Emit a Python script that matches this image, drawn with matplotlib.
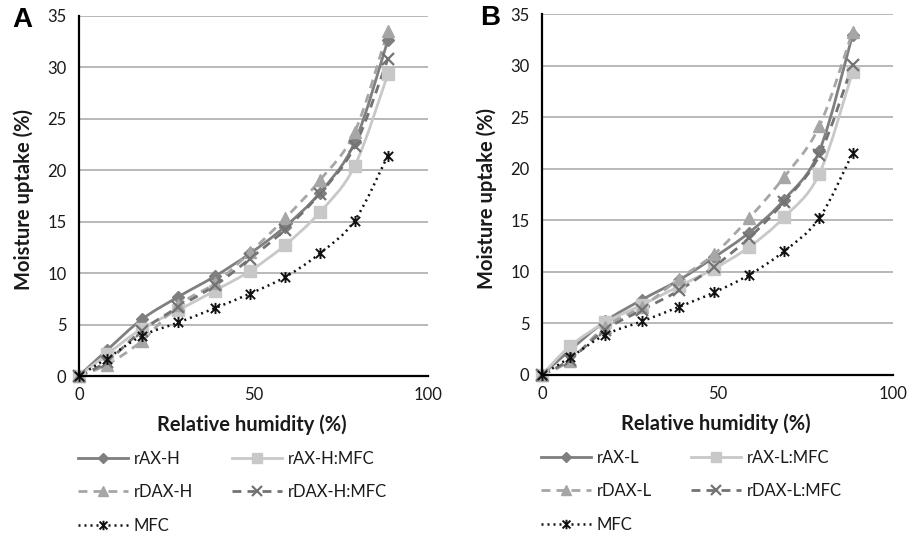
import numpy as np
import matplotlib
matplotlib.use("Agg")
import matplotlib.pyplot as plt
from matplotlib.path import Path
from matplotlib.patches import PathPatch
from matplotlib.lines import Line2D

# ---------------- data ----------------
rh = [0, 8, 18, 28.5, 39, 49, 59, 69, 79, 88.5]

# Panel A
rAX_H       = [0, 2.5, 5.5, 7.7, 9.7, 11.9, 14.5, 17.8, 22.7, 32.6]
rAX_H_MFC   = [0, 2.1, 4.6, 6.4, 8.3, 10.2, 12.7, 15.9, 20.4, 29.3]
rDAX_H      = [0, 1.1, 3.4, 6.9, 9.0, 12.0, 15.3, 19.0, 23.7, 33.5]
rDAX_H_MFC  = [0, 1.4, 4.4, 6.7, 8.8, 11.4, 14.2, 17.7, 22.3, 30.8]
MFC_A       = [0, 1.7, 3.9, 5.2, 6.6, 8.0, 9.6, 11.9, 15.1, 21.4]

# Panel B
rAX_L       = [0, 2.4, 5.2, 7.3, 9.2, 11.4, 13.8, 17.0, 21.7, 33.0]
rAX_L_MFC   = [0, 2.8, 5.1, 6.8, 8.6, 10.3, 12.4, 15.3, 19.5, 29.4]
rDAX_L      = [0, 1.4, 4.7, 6.6, 9.3, 11.7, 15.2, 19.2, 24.1, 33.3]
rDAX_L_MFC  = [0, 1.5, 4.4, 6.3, 8.2, 10.5, 13.3, 16.8, 21.3, 30.1]
MFC_B       = [0, 1.7, 3.9, 5.2, 6.6, 8.0, 9.7, 12.0, 15.2, 21.5]

labels_A = ["rAX-H", "rAX-H:MFC", "rDAX-H", "rDAX-H:MFC", "MFC"]
labels_B = ["rAX-L", "rAX-L:MFC", "rDAX-L", "rDAX-L:MFC", "MFC"]
xticks = [0, 50, 100]
yticks = [0, 5, 10, 15, 20, 25, 30, 35]

# ---------------- style ----------------
FONT = ["Lato", "DejaVu Sans"]
plt.rcParams["font.family"] = FONT

star = Path([(-1, -1), (1, 1), (-1, 1), (1, -1), (0, -1.2), (0, 1.2)],
            [Path.MOVETO, Path.LINETO, Path.MOVETO, Path.LINETO, Path.MOVETO, Path.LINETO])

styles = [
    dict(color="#7f7f7f", ls="-", lw=2.0, marker="D", ms=6.5, mec="#7f7f7f", mfc="#7f7f7f"),
    dict(color="#c8c8c8", ls="-", lw=2.0, marker="s", ms=8, mec="#c8c8c8", mfc="#c8c8c8"),
    dict(color="#a6a6a6", ls=(0, (3.2, 2.2)), lw=2.0, marker="^", ms=8.5, mec="#a6a6a6", mfc="#a6a6a6"),
    dict(color="#737373", ls=(0, (3.2, 2.2)), lw=2.0, marker="x", ms=8, mec="#737373", mfc="#737373", mew=1.6),
    dict(color="#111111", ls=(0, (0.8, 1.6)), lw=1.8, marker=star, ms=8, mec="#111111", mfc="none", mew=1.4),
]


def smooth_path(x, y):
    pts = np.column_stack([np.asarray(x, float), np.asarray(y, float)])
    n = len(pts)
    verts = [pts[0]]
    codes = [Path.MOVETO]
    for i in range(n - 1):
        p0 = pts[i - 1] if i > 0 else pts[i]
        p1 = pts[i]
        p2 = pts[i + 1]
        p3 = pts[i + 2] if i + 2 < n else pts[i + 1]
        c1 = p1 + (p2 - p0) / 6.0
        c2 = p2 - (p3 - p1) / 6.0
        verts += [c1, c2, p2]
        codes += [Path.CURVE4] * 3
    return Path(verts, codes)


def draw_panel(ax, series, labels, letter, letter_x):
    ax.set_xlim(0, 100)
    ax.set_ylim(0, 35)
    ax.set_xticks(xticks)
    ax.set_yticks(yticks)
    ax.tick_params(length=0, labelsize=12, colors="#1a1a1a")
    ax.tick_params(axis="x", pad=8)
    ax.tick_params(axis="y", pad=9)
    for s in ["top", "right"]:
        ax.spines[s].set_visible(False)
    for s in ["left", "bottom"]:
        ax.spines[s].set_linewidth(1.6)
        ax.spines[s].set_color("black")
        ax.spines[s].set_zorder(3)
    for yv in yticks[1:]:
        ax.axhline(yv, color="#b3b3b3", lw=1.3, zorder=0)

    handles = []
    for ys, st, lab in zip(series, styles, labels):
        p = PathPatch(smooth_path(rh, ys), fill=False, edgecolor=st["color"],
                      lw=st["lw"], linestyle=st["ls"], zorder=2, capstyle="butt")
        ax.add_patch(p)
        ax.plot(rh, ys, linestyle="none", marker=st["marker"], ms=st["ms"],
                mec=st["mec"], mfc=st["mfc"], mew=st.get("mew", 1.0),
                zorder=2.5, clip_on=False)
        h = Line2D([], [], color=st["color"], lw=st["lw"], linestyle=st["ls"],
                   marker=st["marker"], ms=st["ms"] * 0.85, mec=st["mec"], mfc=st["mfc"],
                   mew=st.get("mew", 1.0))
        handles.append(h)

    yl = ax.set_ylabel("Moisture uptake (%)", fontsize=14.5, fontweight="bold", color="#1a1a1a")
    yl.set_va("center")
    ax.yaxis.set_label_coords(-0.158, 0.49)
    xl = ax.set_xlabel("Relative humidity (%)", fontsize=14.5, fontweight="bold", color="#1a1a1a")
    xl.set_va("center")
    ax.xaxis.set_label_coords(0.496, -0.136)

    order = [0, 2, 4, 1, 3]
    leg = ax.legend([handles[i] for i in order], [labels[i] for i in order],
                    ncol=2, frameon=False, loc="upper left",
                    bbox_to_anchor=(-0.003, -0.207), fontsize=12,
                    handlelength=3.0, handletextpad=0.36, columnspacing=2.35,
                    labelspacing=1.05, borderpad=0, borderaxespad=0)
    for t in leg.get_texts():
        t.set_color("#1a1a1a")

    ax.text(letter_x, 0.988, letter, transform=ax.transAxes, fontsize=20,
            fontweight="bold", family=["Liberation Sans", "DejaVu Sans"],
            ha="center", va="center", color="black")


fig = plt.figure(figsize=(9.17, 5.37), dpi=100)
axA = fig.add_axes([0.0861, 0.2998, 0.3806, 0.6710])
axB = fig.add_axes([0.5910, 0.3017, 0.3828, 0.6722])

draw_panel(axA, [rAX_H, rAX_H_MFC, rDAX_H, rDAX_H_MFC, MFC_A], labels_A, "A", -0.163)
draw_panel(axB, [rAX_L, rAX_L_MFC, rDAX_L, rDAX_L_MFC, MFC_B], labels_B, "B", -0.148)

fig.savefig("out.png", dpi=100)
